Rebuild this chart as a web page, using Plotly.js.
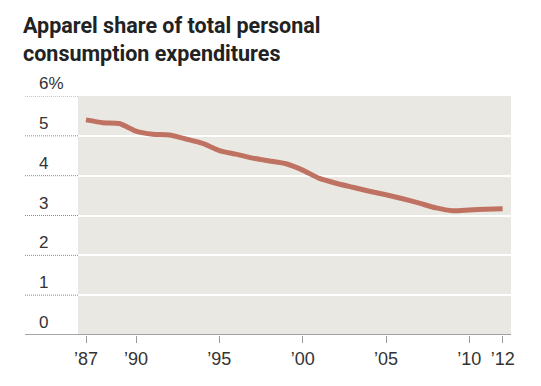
<!DOCTYPE html>
<html>
<head>
<meta charset="utf-8">
<script src="https://cdn.plot.ly/plotly-3.0.1.min.js"></script>
<style>html,body{margin:0;padding:0;background:#fff;}#chart{width:541px;height:386px;}</style>
</head>
<body>
<div id="chart"></div>
<script>
var years = [1987,1988,1989,1990,1991,1992,1993,1994,1995,1996,1997,1998,1999,2000,2001,2002,2003,2004,2005,2006,2007,2008,2009,2010,2011,2012];
var share = [5.40,5.33,5.31,5.12,5.04,5.02,4.92,4.81,4.63,4.54,4.44,4.37,4.30,4.14,3.93,3.81,3.71,3.61,3.52,3.42,3.31,3.19,3.12,3.14,3.16,3.17];
var xTickVals = [1987,1990,1995,2000,2005,2010,2012];
var xTickText = ["\u201987","\u201990","\u201995","\u201900","\u201905","\u201910","\u201912"];
var yTickVals = [0,1,2,3,4,5,6];
var yTickText = ["0","1","2","3","4","5","6%"];
var titleText = "Apparel share of total personal<br>consumption expenditures";

var W = 541, H = 386;
var m = {l:78, r:30, t:96, b:51};
var pw = W - m.l - m.r;
var labelX = (37 - m.l) / pw;
var dotX0 = (25 - m.l) / pw;

var annotations = yTickVals.map(function(v, i){
  return {xref:'paper', yref:'y', x:labelX, y:v, xanchor:'left', yanchor:'bottom', yshift:1,
    text:yTickText[i], showarrow:false, font:{family:'Liberation Sans, Arial, sans-serif', size:17, color:'#333'}};
});
var shapes = yTickVals.filter(function(v){return v>0;}).map(function(v){
  return {type:'line', xref:'paper', yref:'y', x0:dotX0, x1:0, y0:v, y1:v,
    line:{color:'#8c8c8c', width:1, dash:'1px,1px'}};
});
shapes.push({type:'line', xref:'paper', yref:'y', x0:dotX0, x1:1, y0:0, y1:0, line:{color:'#8a8a8a', width:1.5}});

var trace = {x:years, y:share, type:'scatter', mode:'lines',
  line:{color:'#c07262', width:5, shape:'spline', smoothing:0.5}, hoverinfo:'skip'};

var layout = {
  width:W, height:H, margin:m,
  paper_bgcolor:'#ffffff', plot_bgcolor:'#e9e8e2',
  showlegend:false,
  title:{text:titleText, xref:'container', yref:'container', x:23/W, xanchor:'left', y:1-33/H, yanchor:'top',
    font:{family:'Roboto, Liberation Sans, Arial, sans-serif', size:21.5, color:'#222', weight:'bold'}},
  xaxis:{range:[1986.52, 2012.5], tickmode:'array', tickvals:xTickVals, ticktext:xTickText,
    ticks:'outside', ticklen:7, tickwidth:1, tickcolor:'#999', showgrid:false, zeroline:false,
    showline:false, tickfont:{family:'Liberation Sans, Arial, sans-serif', size:18, color:'#333'}, fixedrange:true},
  yaxis:{range:[0,6], tickmode:'array', tickvals:yTickVals, showticklabels:false, showgrid:true,
    gridcolor:'#ffffff', gridwidth:2, zeroline:false, showline:false, fixedrange:true},
  annotations:annotations,
  shapes:shapes
};
Plotly.newPlot('chart', [trace], layout, {displayModeBar:false, staticPlot:true});
</script>
</body>
</html>
